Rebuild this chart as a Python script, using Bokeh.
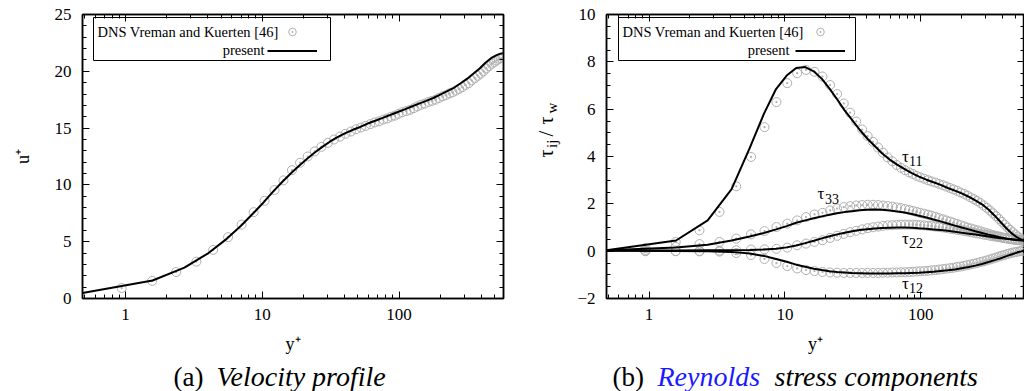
import math
from bokeh.plotting import figure
from bokeh.models import (Range1d, FixedTicker, SingleIntervalTicker, LinearAxis, LogAxis,
                          Label, BoxAnnotation, Legend, LegendItem, PrintfTickFormatter)
from bokeh.layouts import row, column
from bokeh.embed import file_html
from bokeh.resources import INLINE

# ---------------- data ----------------
# DNS (Vreman and Kuerten) sample positions y+
X_DNS = [0.94, 1.57, 2.35, 3.30, 4.38, 5.63, 7.07, 8.66, 10.4, 12.3,
         14.3, 16.5, 18.9, 21.5, 24.2, 27.1, 30.2, 33.5, 37.0, 40.6,
         44.5, 48.5, 52.7, 57.1, 61.7, 66.5, 71.5, 76.7, 82.0, 87.5,
         93.2, 99.0, 106, 113, 120, 128, 136, 145, 154, 164,
         174, 185, 196, 208, 220, 233, 246, 260, 275, 290,
         306, 323, 340, 358, 376, 395, 414, 434, 454, 475,
         496, 517, 538, 559, 578]
U_DNS = [0.92, 1.55, 2.33, 3.24, 4.28, 5.4, 6.5, 7.6, 8.6, 9.55,
         10.4, 11.3, 11.95, 12.5, 12.95, 13.35, 13.7, 14.0, 14.25, 14.5,
         14.7, 14.9, 15.05, 15.2, 15.35, 15.5, 15.6, 15.75, 15.85, 16.0,
         16.1, 16.25, 16.4, 16.5, 16.6, 16.75, 16.9, 17.05, 17.15, 17.3,
         17.4, 17.5, 17.65, 17.8, 17.9, 18.05, 18.15, 18.3, 18.45, 18.6,
         18.8, 18.95, 19.2, 19.4, 19.6, 19.8, 20.0, 20.25, 20.45, 20.65,
         20.8, 20.95, 21.1, 21.15, 21.2]
T11_DNS = [0.13, 0.39, 0.88, 1.66, 2.74, 3.98, 5.24, 6.3, 7.1, 7.52,
           7.66, 7.58, 7.38, 7.02, 6.64, 6.24, 5.85, 5.48, 5.14, 4.86,
           4.62, 4.38, 4.16, 3.96, 3.8, 3.64, 3.52, 3.42, 3.33, 3.26,
           3.18, 3.12, 3.06, 3.0, 2.95, 2.9, 2.84, 2.79, 2.73, 2.67,
           2.61, 2.55, 2.48, 2.42, 2.35, 2.27, 2.2, 2.12, 2.03, 1.93,
           1.83, 1.72, 1.6, 1.48, 1.36, 1.24, 1.12, 1.0, 0.9, 0.8,
           0.7, 0.62, 0.55, 0.5, 0.48]
T22_DNS = [0.0, 0.0, 0.01, 0.02, 0.04, 0.07, 0.08, 0.1, 0.15, 0.25,
           0.32, 0.39, 0.46, 0.56, 0.65, 0.73, 0.8, 0.86, 0.92, 0.97,
           1.01, 1.04, 1.07, 1.09, 1.1, 1.11, 1.12, 1.12, 1.12, 1.12,
           1.11, 1.1, 1.09, 1.07, 1.06, 1.04, 1.02, 1.0, 0.98, 0.95,
           0.93, 0.9, 0.88, 0.85, 0.83, 0.8, 0.78, 0.75, 0.73, 0.7,
           0.68, 0.65, 0.63, 0.61, 0.59, 0.57, 0.55, 0.53, 0.51, 0.5,
           0.48, 0.47, 0.46, 0.45, 0.45]
T33_DNS = [0.05, 0.18, 0.3, 0.39, 0.53, 0.71, 0.85, 1.02, 1.16, 1.3,
           1.44, 1.55, 1.62, 1.72, 1.8, 1.86, 1.9, 1.93, 1.95, 1.96,
           1.96, 1.95, 1.93, 1.91, 1.88, 1.85, 1.82, 1.78, 1.74, 1.7,
           1.66, 1.62, 1.58, 1.54, 1.5, 1.45, 1.4, 1.35, 1.3, 1.25,
           1.2, 1.15, 1.1, 1.05, 1.0, 0.96, 0.92, 0.88, 0.84, 0.8,
           0.76, 0.72, 0.68, 0.65, 0.62, 0.59, 0.56, 0.54, 0.52, 0.5,
           0.48, 0.47, 0.46, 0.45, 0.45]
T12_DNS = [0.0, 0.0, -0.01, -0.02, -0.08, -0.17, -0.33, -0.5, -0.63, -0.73,
           -0.8, -0.84, -0.88, -0.9, -0.91, -0.92, -0.92, -0.92, -0.92, -0.92,
           -0.92, -0.92, -0.91, -0.91, -0.9, -0.9, -0.89, -0.89, -0.88, -0.87,
           -0.86, -0.85, -0.84, -0.83, -0.81, -0.8, -0.78, -0.76, -0.74, -0.72,
           -0.7, -0.67, -0.65, -0.62, -0.59, -0.56, -0.53, -0.5, -0.46, -0.43,
           -0.39, -0.35, -0.31, -0.27, -0.23, -0.19, -0.16, -0.12, -0.09, -0.06,
           -0.04, -0.02, 0.0, 0.01, 0.02]

# present simulation
X_LINE = [0.486, 1.58, 2.7, 4.05, 5.5, 7.0, 8.6, 10.3, 12.1, 14.1,
          16.3, 18.7, 21.3, 24.2, 27.5, 31.2, 35.5, 40.5, 46, 52,
          59, 67, 76, 86, 97, 110, 124, 140, 158, 178,
          200, 225, 252, 282, 315, 350, 388, 428, 470, 512,
          550, 580]
U_LINE = [0.48, 1.58, 2.72, 4.0, 5.25, 6.4, 7.5, 8.5, 9.45, 10.3,
          11.05, 11.7, 12.3, 12.85, 13.35, 13.8, 14.2, 14.55, 14.85, 15.1,
          15.4, 15.65, 15.9, 16.15, 16.4, 16.65, 16.9, 17.15, 17.4, 17.65,
          17.95, 18.25, 18.55, 18.95, 19.35, 19.8, 20.25, 20.75, 21.15, 21.4,
          21.55, 21.6]
T11_LINE = [0.04, 0.45, 1.3, 2.62, 4.35, 5.8, 6.85, 7.42, 7.74, 7.78,
            7.6, 7.28, 6.87, 6.42, 5.95, 5.55, 5.13, 4.75, 4.43, 4.13,
            3.87, 3.66, 3.47, 3.3, 3.15, 3.02, 2.91, 2.8, 2.67, 2.56,
            2.44, 2.3, 2.15, 1.98, 1.76, 1.5, 1.22, 0.96, 0.74, 0.58,
            0.49, 0.46]
T22_LINE = [0.03, 0.03, 0.04, 0.04, 0.05, 0.07, 0.1, 0.16, 0.24, 0.34,
            0.44, 0.54, 0.63, 0.71, 0.78, 0.84, 0.89, 0.93, 0.96, 0.98,
            0.99, 1.0, 1.0, 0.99, 0.97, 0.95, 0.92, 0.89, 0.86, 0.82,
            0.78, 0.74, 0.7, 0.66, 0.62, 0.58, 0.55, 0.52, 0.49, 0.47,
            0.46, 0.45]
T33_LINE = [0.04, 0.15, 0.27, 0.45, 0.62, 0.77, 0.92, 1.06, 1.2, 1.3,
            1.39, 1.47, 1.54, 1.6, 1.65, 1.69, 1.73, 1.75, 1.76, 1.75,
            1.72, 1.68, 1.63, 1.57, 1.5, 1.42, 1.34, 1.26, 1.17, 1.08,
            1.0, 0.92, 0.84, 0.77, 0.7, 0.64, 0.58, 0.53, 0.5, 0.47,
            0.46, 0.45]
T12_LINE = [0.02, 0.01, 0.0, -0.03, -0.1, -0.2, -0.33, -0.45, -0.57, -0.66,
            -0.74, -0.8, -0.85, -0.88, -0.9, -0.92, -0.93, -0.94, -0.94, -0.94,
            -0.94, -0.93, -0.93, -0.92, -0.91, -0.89, -0.87, -0.84, -0.81, -0.77,
            -0.72, -0.67, -0.61, -0.54, -0.46, -0.38, -0.3, -0.21, -0.13, -0.06,
            -0.01, 0.03]

X_TICKS = [1, 10, 100]
X_LABEL = "y\u207a"
U_LABEL = "u\u207a"
LEGEND_DNS = "DNS Vreman and Kuerten [46]"
LEGEND_PRESENT = "present"

FONT = "Liberation Serif"
DNS_COLOR = "#b0b0b0"
MAIN_H = 358
CAP_H = 391 - MAIN_H

x_minor = [m * 10 ** e for e in (-1, 0, 1, 2) for m in range(2, 10) if 0.48 < m * 10 ** e < 590]


def style_axis(ax):
    ax.major_label_text_font = FONT
    ax.major_label_text_font_size = "17px"
    ax.major_label_text_color = "black"
    ax.axis_line_color = "black"
    ax.axis_line_width = 1.5
    ax.major_tick_line_color = "black"
    ax.minor_tick_line_color = "black"
    ax.major_tick_line_width = 1
    ax.minor_tick_line_width = 1
    ax.major_tick_in = 7
    ax.major_tick_out = 0
    ax.minor_tick_in = 4
    ax.minor_tick_out = 0
    ax.axis_label_text_font = FONT
    ax.axis_label_text_font_style = "normal"
    ax.axis_label_text_font_size = "18px"
    ax.axis_label_text_color = "black"


def mirror(ax):
    style_axis(ax)
    ax.major_label_text_font_size = "1px"
    ax.major_label_text_alpha = 0
    ax.major_label_standoff = 0


def add_text(p, x, y, text, size, style="normal", color="black", align="left",
             baseline="middle", angle=0.0):
    p.add_layout(Label(x=x, y=y, x_units="canvas", y_units="canvas", text=text,
                       text_font=FONT, text_font_size=f"{size}px", text_font_style=style,
                       text_color=color, text_align=align, text_baseline=baseline,
                       angle=angle))


def blank_fig(w, h):
    p = figure(width=w, height=h, x_range=Range1d(0, w), y_range=Range1d(0, h),
               x_axis_location=None, y_axis_location=None, title=None,
               output_backend="svg", toolbar_location=None,
               min_border_left=0, min_border_right=0, min_border_top=0, min_border_bottom=0)
    p.grid.visible = False
    p.outline_line_color = None
    p.background_fill_color = "white"
    p.border_fill_color = "white"
    return p


def make_fig(w, yr, yticker, border_left, border_right, ylabel=None, ylabel_standoff=10):
    p = figure(width=w, height=MAIN_H, x_axis_type="log",
               x_range=Range1d(0.486, 580), y_range=yr,
               output_backend="svg", toolbar_location=None,
               min_border_left=border_left, min_border_right=border_right,
               min_border_top=14, min_border_bottom=MAIN_H - 298)
    p.grid.visible = False
    p.outline_line_color = "black"
    p.outline_line_width = 1.5
    p.background_fill_color = "white"
    p.border_fill_color = "white"
    xt = FixedTicker(ticks=X_TICKS, minor_ticks=x_minor)
    xa = p.xaxis[0]
    ya = p.yaxis[0]
    xa.ticker = xt
    xa.formatter = PrintfTickFormatter(format="%d")
    ya.ticker = yticker
    style_axis(xa)
    style_axis(ya)
    xa.major_label_standoff = 10
    ya.major_label_standoff = 11
    xa.axis_label = X_LABEL
    xa.axis_label_standoff = 11
    if ylabel is not None:
        ya.axis_label = ylabel
        ya.axis_label_standoff = ylabel_standoff
    top = LogAxis(ticker=xt)
    mirror(top)
    p.add_layout(top, "above")
    right = LinearAxis(ticker=yticker)
    mirror(right)
    p.add_layout(right, "right")
    return p, ya


def add_legend(p, sc, ln, box_left, vx):
    p.add_layout(BoxAnnotation(left=box_left, right=box_left + 237, top=17, bottom=60,
                               left_units="canvas", right_units="canvas",
                               top_units="canvas", bottom_units="canvas",
                               fill_alpha=0, line_color="black", line_width=1, line_alpha=1))
    add_text(p, box_left + 4, 31, LEGEND_DNS, 14.5)
    add_text(p, box_left + 171, 49.5, LEGEND_PRESENT, 14.5, align="right")
    leg = Legend(items=[LegendItem(label=" ", renderers=[sc]),
                        LegendItem(label=" ", renderers=[ln])],
                 location=(vx, 238), glyph_width=50, glyph_height=19, label_height=19,
                 label_width=1, label_standoff=0, label_text_font_size="6px",
                 spacing=0, padding=0, margin=0,
                 border_line_alpha=0, background_fill_alpha=0)
    p.add_layout(leg)


# ---------------- (a) velocity profile ----------------
p1, ya1 = make_fig(512, Range1d(0, 25), SingleIntervalTicker(interval=5, num_minor_ticks=5), 82, 9,
                   ylabel=U_LABEL, ylabel_standoff=19)
s1 = p1.scatter(X_DNS, U_DNS, marker="circle_dot", size=9, fill_color=None,
                line_color=DNS_COLOR, line_width=1)
l1 = p1.line(X_LINE, U_LINE, line_color="black", line_width=2)
add_legend(p1, s1, l1, 93, 185)

# ---------------- y label strip for (b) ----------------
ylab = blank_fig(60, MAIN_H)
rot = math.pi / 2
add_text(ylab, 33.4, 157, "\u03c4", 20, angle=rot)
add_text(ylab, 39, 147.5, "ij", 15, angle=rot)
add_text(ylab, 33.4, 136, "/", 21, angle=rot)
add_text(ylab, 33.4, 124, "\u03c4", 20, angle=rot)
add_text(ylab, 39, 113, "w", 15, angle=rot)

# ---------------- (b) Reynolds stresses ----------------
p2, ya2 = make_fig(452, Range1d(-2, 10), SingleIntervalTicker(interval=2, num_minor_ticks=4), 34, 0)
ya2.major_label_overrides = {-2: "\u22122"}
s2 = None
for ys in (T11_DNS, T22_DNS, T33_DNS, T12_DNS):
    r = p2.scatter(X_DNS, ys, marker="circle_dot", size=9, fill_color=None,
                   line_color=DNS_COLOR, line_width=1)
    if s2 is None:
        s2 = r
l2 = None
for ys in (T11_LINE, T22_LINE, T33_LINE, T12_LINE):
    r = p2.line(X_LINE, ys, line_color="black", line_width=2)
    if l2 is None:
        l2 = r
add_legend(p2, s2, l2, 46, 189)

# curve labels (tau symbol + subscript)
for (tx, ty, sub, sx_, sy_) in [(329.5, 156.0, "11", 336.5, 160.0),
                                (245, 193.0, "33", 252.5, 198.5),
                                (329.5, 238.0, "22", 336.5, 242.5),
                                (329.5, 282.5, "12", 336.5, 287.0)]:
    add_text(p2, tx, ty, "\u03c4", 17)
    add_text(p2, sx_, sy_, sub, 14)

# ---------------- captions ----------------
cap1 = blank_fig(512, CAP_H)
add_text(cap1, 173, 18, "(a)", 27)
add_text(cap1, 216, 18, "Velocity profile", 28, style="italic")
cap2 = blank_fig(512, CAP_H)
add_text(cap2, 100, 18, "(b)", 27)
add_text(cap2, 145, 18, "Reynolds", 28, style="italic", color="#1a1aff")
add_text(cap2, 262, 18, "stress components", 28, style="italic")

layout = column(row(p1, ylab, p2), row(cap1, cap2))
open("out.html", "w").write(file_html(layout, INLINE))
